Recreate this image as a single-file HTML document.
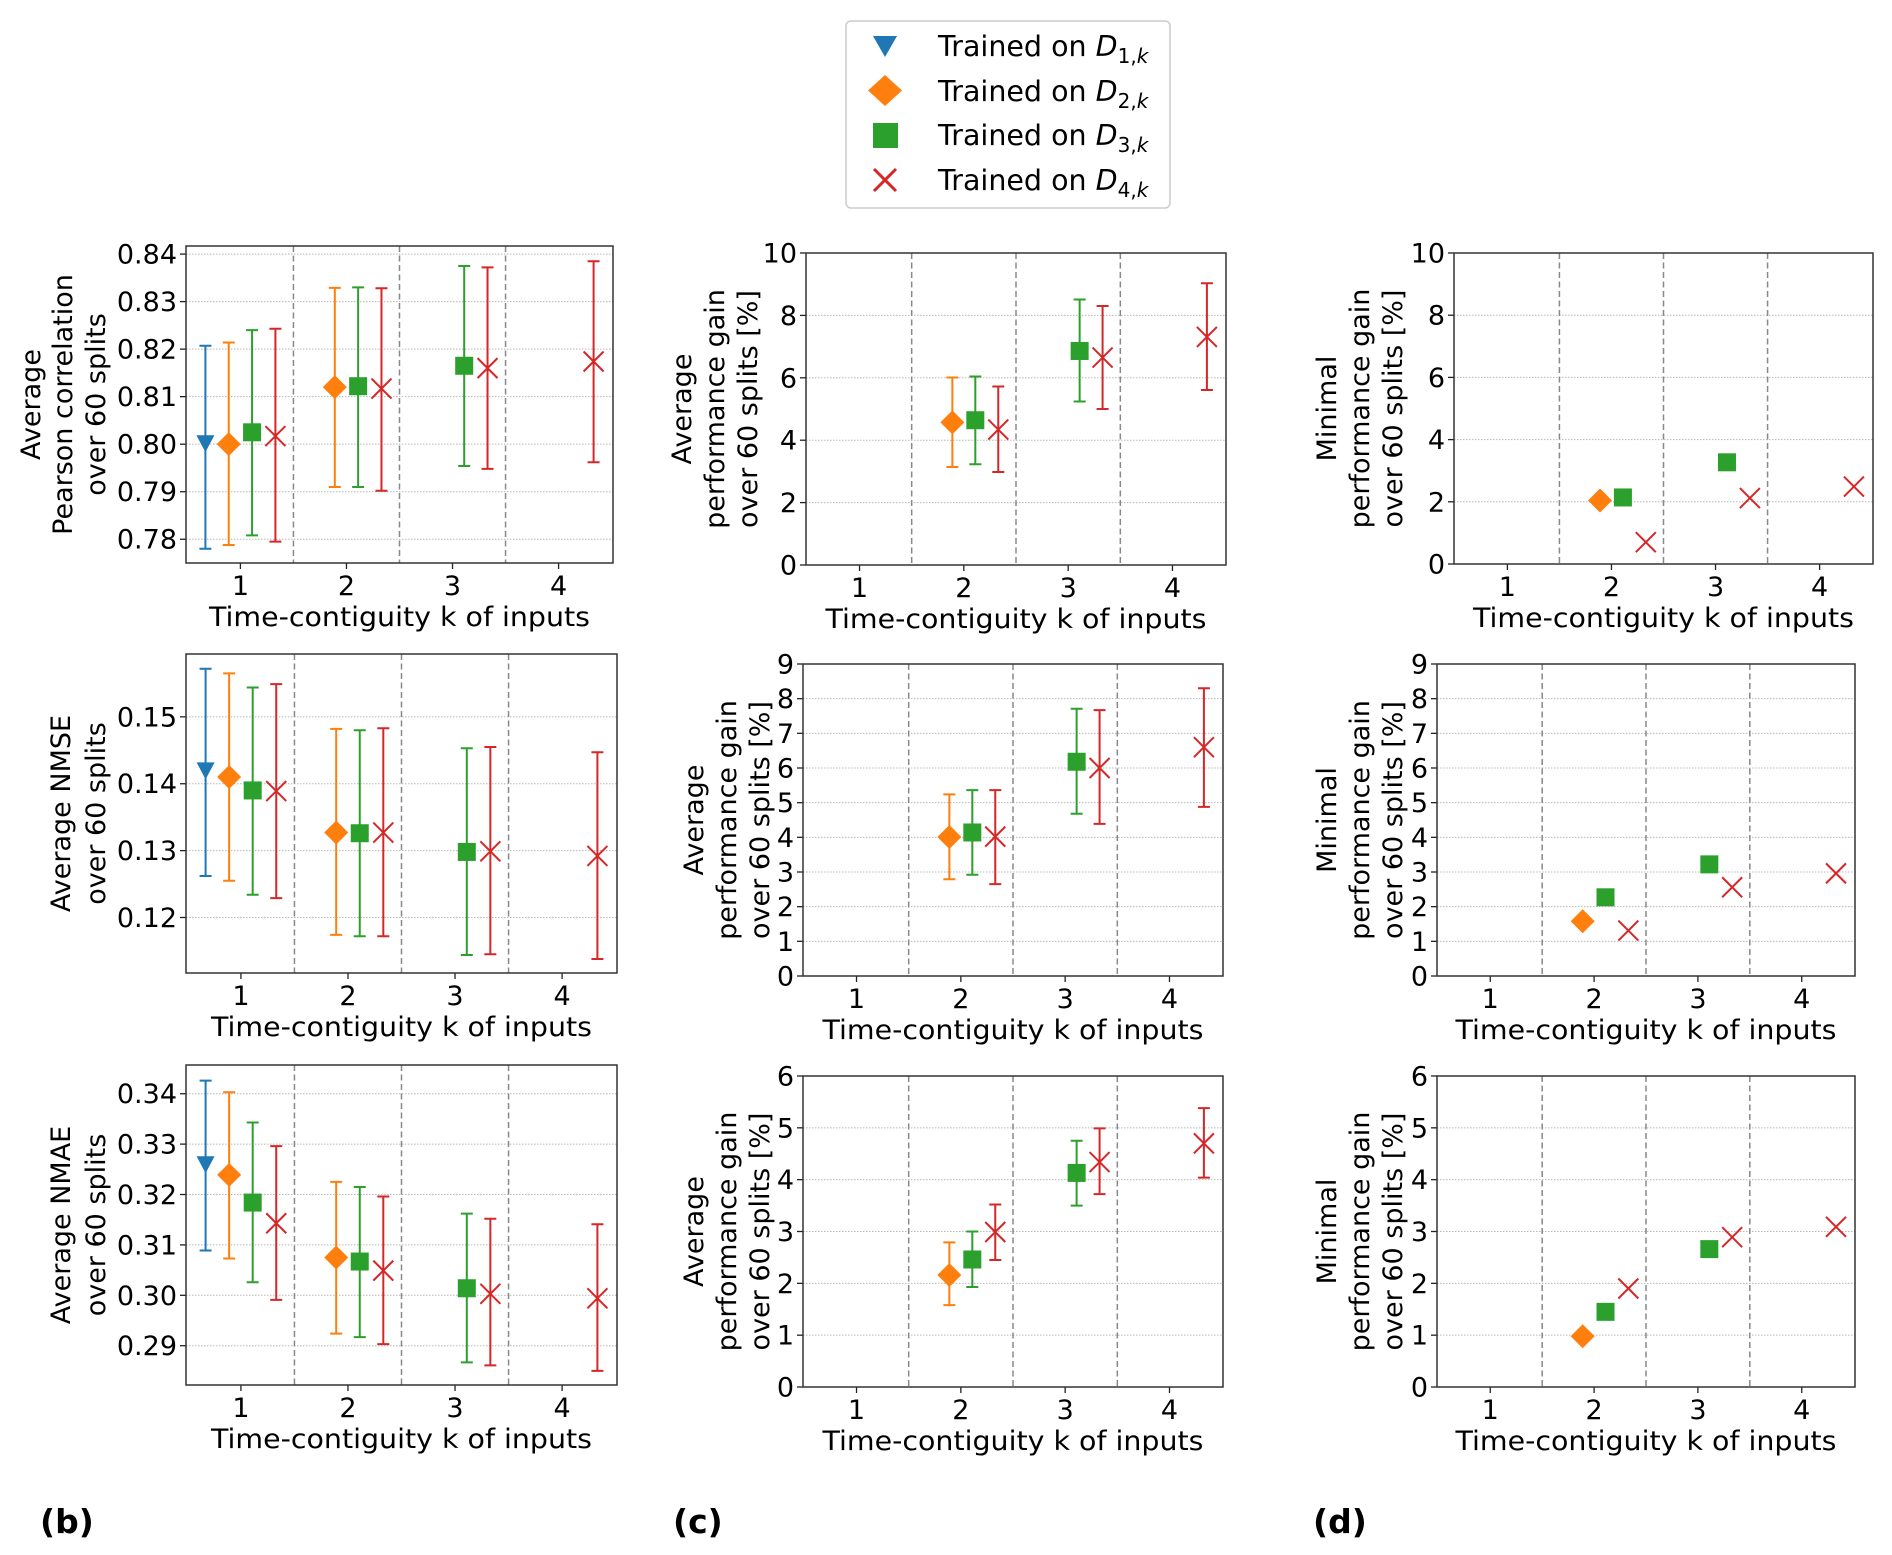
<!DOCTYPE html>
<html><head><meta charset="utf-8"><style>
html,body{margin:0;padding:0;background:#fff;}
svg{display:block;font-family:"DejaVu Sans","Liberation Sans",sans-serif;}
</style></head><body>
<svg id="fig" width="1892" height="1555" viewBox="0 0 1892 1555" xmlns="http://www.w3.org/2000/svg">
<g>
<rect x="846" y="21" width="324" height="187" rx="5" fill="#fff" stroke="#cccccc" stroke-width="1.5"/>
<polygon points="873,36 897,36 885,57" fill="#1f77b4"/>
<text x="938" y="56" font-size="28.5">Trained on <tspan font-style="italic">D</tspan><tspan dy="7" font-size="20">1,</tspan><tspan font-size="20" font-style="italic">k</tspan></text>
<polygon points="885,75 902,90.5 885,106 868,90.5" fill="#ff7f0e"/>
<text x="938" y="101" font-size="28.5">Trained on <tspan font-style="italic">D</tspan><tspan dy="7" font-size="20">2,</tspan><tspan font-size="20" font-style="italic">k</tspan></text>
<rect x="873" y="123" width="25" height="25" fill="#2ca02c"/>
<text x="938" y="145" font-size="28.5">Trained on <tspan font-style="italic">D</tspan><tspan dy="7" font-size="20">3,</tspan><tspan font-size="20" font-style="italic">k</tspan></text>
<path d="M874,169 L896,191 M896,169 L874,191" stroke="#d62728" stroke-width="3"/>
<text x="938" y="190" font-size="28.5">Trained on <tspan font-style="italic">D</tspan><tspan dy="7" font-size="20">4,</tspan><tspan font-size="20" font-style="italic">k</tspan></text>
</g>
<text x="40" y="1533" font-size="33" font-weight="bold">(b)</text>
<text x="673" y="1533" font-size="33" font-weight="bold">(c)</text>
<text x="1313" y="1533" font-size="33" font-weight="bold">(d)</text>
</svg>
<script>
// Categories and series
const kCategories = [1, 2, 3, 4];
const seriesNames = ["D1", "D2", "D3", "D4"];
const xTickLabels = ["1", "2", "3", "4"];
// Point layout for column (b): which series / k each value belongs to
const fullSeries = [0, 1, 2, 3, 1, 2, 3, 2, 3, 3];
const fullK = [1, 1, 1, 1, 2, 2, 2, 3, 3, 4];
// Point layout for gain columns (c), (d)
const gainSeries = [1, 2, 3, 2, 3, 3];
const gainK = [2, 2, 2, 3, 3, 4];

// (b) Pearson
const pearsonMean = [0.8002, 0.8000, 0.8025, 0.8017, 0.8120, 0.8122, 0.8117, 0.8165, 0.8160, 0.8174];
const pearsonLow = [0.7780, 0.7788, 0.7808, 0.7795, 0.7910, 0.7910, 0.7902, 0.7954, 0.7948, 0.7962];
const pearsonHigh = [0.8207, 0.8214, 0.8240, 0.8243, 0.8329, 0.8330, 0.8328, 0.8375, 0.8372, 0.8385];
const pearsonTicks = [0.78, 0.79, 0.80, 0.81, 0.82, 0.83, 0.84];
// (b) NMSE
const nmseMean = [0.1420, 0.1410, 0.1390, 0.1389, 0.1327, 0.1326, 0.1327, 0.1298, 0.1299, 0.1292];
const nmseLow = [0.1262, 0.1255, 0.1234, 0.1229, 0.1174, 0.1172, 0.1172, 0.1144, 0.1145, 0.1138];
const nmseHigh = [0.1572, 0.1565, 0.1544, 0.1549, 0.1482, 0.1480, 0.1483, 0.1453, 0.1455, 0.1447];
const nmseTicks = [0.12, 0.13, 0.14, 0.15];
// (b) NMAE
const nmaeMean = [0.3260, 0.3239, 0.3184, 0.3143, 0.3075, 0.3067, 0.3049, 0.3014, 0.3003, 0.2994];
const nmaeLow = [0.3089, 0.3073, 0.3026, 0.2991, 0.2924, 0.2917, 0.2903, 0.2867, 0.2861, 0.2850];
const nmaeHigh = [0.3426, 0.3403, 0.3343, 0.3296, 0.3225, 0.3215, 0.3196, 0.3162, 0.3152, 0.3141];
const nmaeTicks = [0.29, 0.30, 0.31, 0.32, 0.33, 0.34];
// (c) average gains
const avgGainPearsonMean = [4.57, 4.64, 4.34, 6.86, 6.65, 7.31];
const avgGainPearsonLow = [3.14, 3.23, 2.98, 5.24, 5.00, 5.61];
const avgGainPearsonHigh = [6.01, 6.04, 5.72, 8.51, 8.30, 9.03];
const avgGainNmseMean = [4.01, 4.14, 4.02, 6.18, 6.00, 6.60];
const avgGainNmseLow = [2.79, 2.92, 2.65, 4.68, 4.39, 4.88];
const avgGainNmseHigh = [5.24, 5.36, 5.36, 7.71, 7.67, 8.30];
const avgGainNmaeMean = [2.16, 2.46, 2.99, 4.13, 4.34, 4.70];
const avgGainNmaeLow = [1.58, 1.93, 2.45, 3.50, 3.72, 4.04];
const avgGainNmaeHigh = [2.79, 3.00, 3.52, 4.75, 4.99, 5.38];
// (d) minimal gains
const minGainPearson = [2.04, 2.14, 0.70, 3.27, 2.12, 2.49];
const minGainNmse = [1.58, 2.27, 1.31, 3.22, 2.56, 2.96];
const minGainNmae = [0.98, 1.45, 1.90, 2.66, 2.89, 3.09];
const gainTicks10 = [0, 2, 4, 6, 8, 10];
const gainTicks9 = [0, 1, 2, 3, 4, 5, 6, 7, 8, 9];
const gainTicks6 = [0, 1, 2, 3, 4, 5, 6];

const seriesOffset = [-0.33, -0.11, 0.11, 0.33];
const colors = ["#1f77b4", "#ff7f0e", "#2ca02c", "#d62728"];
const NS = "http://www.w3.org/2000/svg";
const svg = document.getElementById("fig");

function mk(tag, attrs, parent) {
  const e = document.createElementNS(NS, tag);
  for (const k in attrs) e.setAttribute(k, attrs[k]);
  parent.appendChild(e);
  return e;
}

function drawMarker(g, s, cx, cy) {
  let m;
  if (s === 0) {
    m = mk("polygon", {points: (cx-9)+","+(cy-8)+" "+(cx+9)+","+(cy-8)+" "+cx+","+(cy+9), fill: colors[0]}, g);
  } else if (s === 1) {
    m = mk("polygon", {points: cx+","+(cy-12)+" "+(cx+12)+","+cy+" "+cx+","+(cy+12)+" "+(cx-12)+","+cy, fill: colors[1]}, g);
  } else if (s === 2) {
    m = mk("rect", {x: cx-9, y: cy-9, width: 18, height: 18, fill: colors[2]}, g);
  } else {
    m = mk("path", {d: "M"+(cx-10)+","+(cy-10)+" L"+(cx+10)+","+(cy+10)+" M"+(cx+10)+","+(cy-10)+" L"+(cx-10)+","+(cy+10), stroke: colors[3], "stroke-width": 2, fill: "none"}, g);
  }
  
  
}

function panel(p) {
  const g = mk("g", {}, svg);
  
  
  const xmin = 0.487, xmax = 4.513;
  const X = v => p.x0 + (v - xmin) / (xmax - xmin) * (p.x1 - p.x0);
  const Y = v => p.y1 - (v - p.ymin) / (p.ymax - p.ymin) * (p.y1 - p.y0);
  p.ticks.forEach(t => {
    const y = Y(t);
    const gl = mk("line", {x1: p.x0, x2: p.x1, y1: y, y2: y, stroke: "#b8b8b8", "stroke-width": 1, "stroke-dasharray": "1.5,1.5"}, g);
    
    
    const tk = mk("line", {x1: p.x0 - 6, x2: p.x0, y1: y, y2: y, stroke: "#222", "stroke-width": 1.3}, g);
    
    
    const tl = mk("text", {x: p.x0 - 9, y: y + 9.5, "font-size": 27, "text-anchor": "end", fill: "#000"}, g);
    tl.textContent = p.fmt(t);
    
    
  });
  [1.5, 2.5, 3.5].forEach(v => {
    const d = mk("line", {x1: X(v), x2: X(v), y1: p.y0, y2: p.y1, stroke: "#888", "stroke-width": 1.5, "stroke-dasharray": "6,3.5"}, g);
    
    
  });
  kCategories.forEach((k, i) => {
    const x = X(k);
    const tk = mk("line", {x1: x, x2: x, y1: p.y1, y2: p.y1 + 6, stroke: "#222", "stroke-width": 1.3}, g);
    
    
    const tl = mk("text", {x: x, y: p.y1 + 32, "font-size": 27, "text-anchor": "middle"}, g);
    tl.textContent = xTickLabels[i];
    
    
  });
  const fr = mk("rect", {x: p.x0, y: p.y0, width: p.x1 - p.x0, height: p.y1 - p.y0, fill: "none", stroke: "#333", "stroke-width": 1.5}, g);
  
  
  const xl = mk("text", {x: (p.x0 + p.x1) / 2, y: p.y1 + 63, "font-size": 27, "text-anchor": "middle", textLength: 381, lengthAdjust: "spacingAndGlyphs"}, g);
  xl.textContent = "Time-contiguity k of inputs";
  
  
  const cy = (p.y0 + p.y1) / 2;
  p.ylab.forEach((line, i) => {
    const bx = p.ylx[i] + 9;
    const t = mk("text", {x: 0, y: 0, "font-size": 27, "text-anchor": "middle", transform: "translate(" + bx + "," + cy + ") rotate(-90)"}, g);
    t.textContent = line;
    
    
  });
  p.mean.forEach((m, i) => {
    const s = p.ser[i];
    const x = X(p.kk[i] + seriesOffset[s]);
    const y = Y(m);
    if (p.low) {
      const yl = Y(p.low[i]), yh = Y(p.high[i]);
      const eb = mk("path", {d: "M" + x + "," + yl + " L" + x + "," + yh + " M" + (x - 6) + "," + yl + " L" + (x + 6) + "," + yl + " M" + (x - 6) + "," + yh + " L" + (x + 6) + "," + yh, stroke: colors[s], "stroke-width": 2, fill: "none"}, g);
      
      
    }
    drawMarker(g, s, x, y);
  });
}

const f2 = v => v.toFixed(2);
const f0 = v => String(v);
panel({name: "pearson-panel", x0: 186, x1: 613, y0: 246, y1: 563, ymin: 0.775, ymax: 0.8417, ticks: pearsonTicks, fmt: f2, mean: pearsonMean, low: pearsonLow, high: pearsonHigh, ser: fullSeries, kk: fullK, ylab: ["Average", "Pearson correlation", "over 60 splits"], ylx: [31, 63, 96]});
panel({name: "nmse-panel", x0: 186, x1: 617, y0: 654, y1: 973, ymin: 0.1117, ymax: 0.1594, ticks: nmseTicks, fmt: f2, mean: nmseMean, low: nmseLow, high: nmseHigh, ser: fullSeries, kk: fullK, ylab: ["Average NMSE", "over 60 splits"], ylx: [61, 96]});
panel({name: "nmae-panel", x0: 186, x1: 617, y0: 1065, y1: 1385, ymin: 0.2822, ymax: 0.3457, ticks: nmaeTicks, fmt: f2, mean: nmaeMean, low: nmaeLow, high: nmaeHigh, ser: fullSeries, kk: fullK, ylab: ["Average NMAE", "over 60 splits"], ylx: [61, 96]});
panel({name: "avg-gain-pearson-panel", x0: 806, x1: 1226, y0: 253, y1: 565, ymin: 0, ymax: 10, ticks: gainTicks10, fmt: f0, mean: avgGainPearsonMean, low: avgGainPearsonLow, high: avgGainPearsonHigh, ser: gainSeries, kk: gainK, ylab: ["Average", "performance gain", "over 60 splits [%]"], ylx: [682, 715, 748]});
panel({name: "avg-gain-nmse-panel", x0: 803, x1: 1223, y0: 664, y1: 976, ymin: 0, ymax: 9, ticks: gainTicks9, fmt: f0, mean: avgGainNmseMean, low: avgGainNmseLow, high: avgGainNmseHigh, ser: gainSeries, kk: gainK, ylab: ["Average", "performance gain", "over 60 splits [%]"], ylx: [694, 727, 760]});
panel({name: "avg-gain-nmae-panel", x0: 803, x1: 1223, y0: 1076, y1: 1387, ymin: 0, ymax: 6, ticks: gainTicks6, fmt: f0, mean: avgGainNmaeMean, low: avgGainNmaeLow, high: avgGainNmaeHigh, ser: gainSeries, kk: gainK, ylab: ["Average", "performance gain", "over 60 splits [%]"], ylx: [694, 727, 760]});
panel({name: "min-gain-pearson-panel", x0: 1454, x1: 1873, y0: 253, y1: 564, ymin: 0, ymax: 10, ticks: gainTicks10, fmt: f0, mean: minGainPearson, ser: gainSeries, kk: gainK, ylab: ["Minimal", "performance gain", "over 60 splits [%]"], ylx: [1327, 1360, 1393]});
panel({name: "min-gain-nmse-panel", x0: 1437, x1: 1855, y0: 664, y1: 976, ymin: 0, ymax: 9, ticks: gainTicks9, fmt: f0, mean: minGainNmse, ser: gainSeries, kk: gainK, ylab: ["Minimal", "performance gain", "over 60 splits [%]"], ylx: [1327, 1360, 1393]});
panel({name: "min-gain-nmae-panel", x0: 1437, x1: 1855, y0: 1076, y1: 1387, ymin: 0, ymax: 6, ticks: gainTicks6, fmt: f0, mean: minGainNmae, ser: gainSeries, kk: gainK, ylab: ["Minimal", "performance gain", "over 60 splits [%]"], ylx: [1327, 1360, 1393]});
</script>
</body></html>
